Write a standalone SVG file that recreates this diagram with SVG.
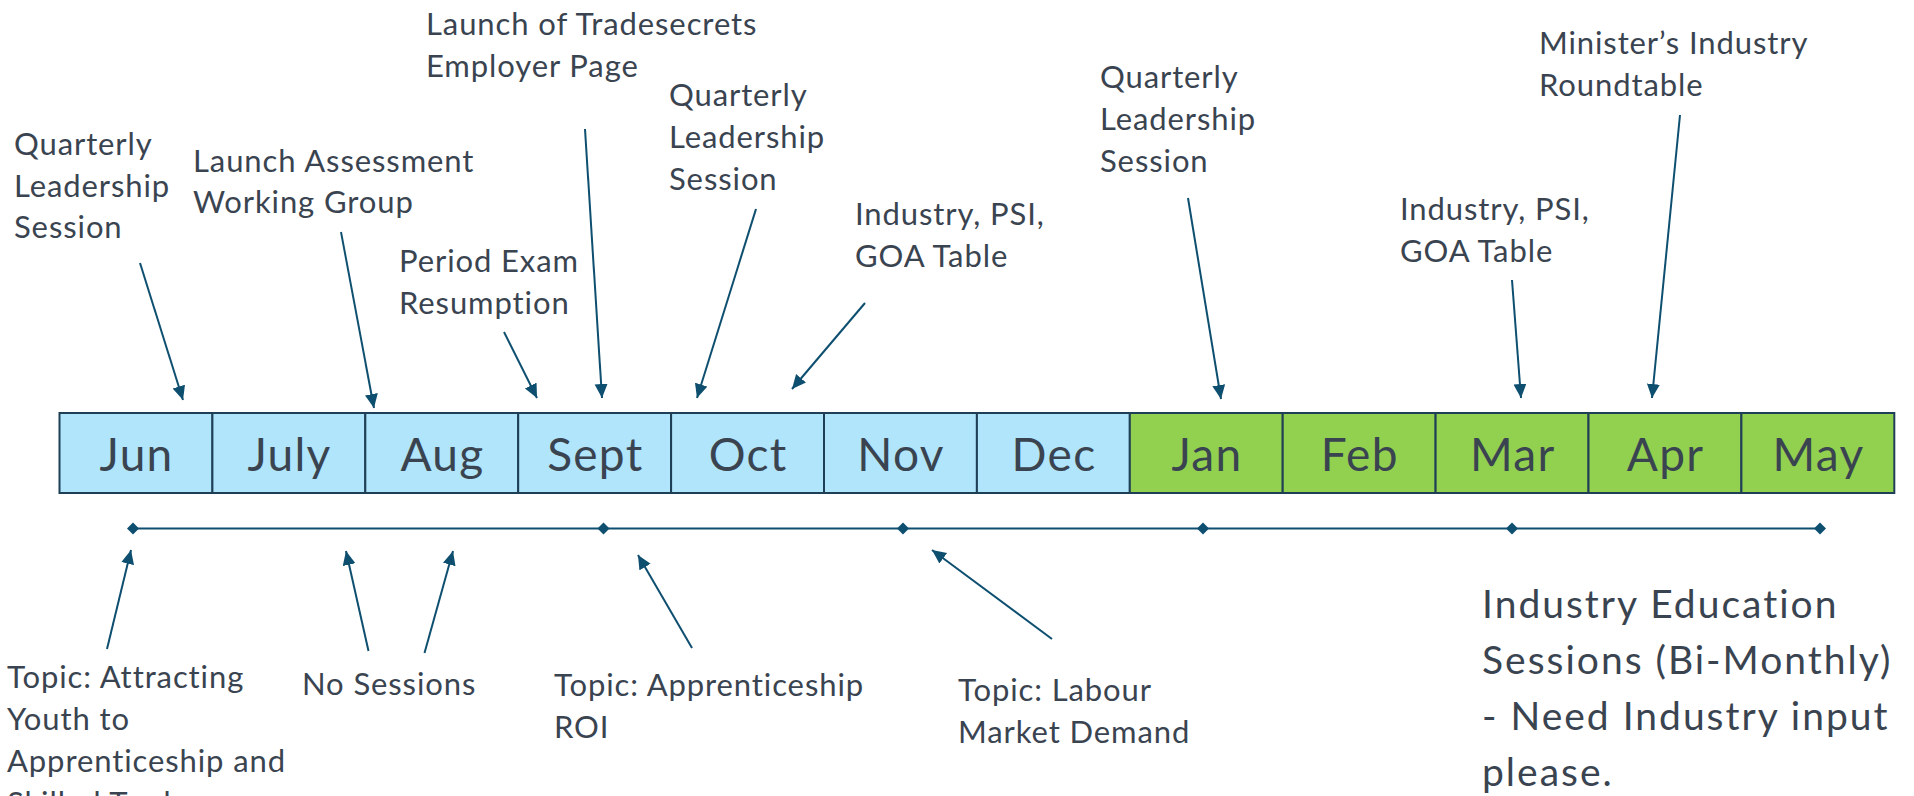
<svg xmlns="http://www.w3.org/2000/svg" width="1914" height="796" viewBox="0 0 1914 796">
<style>
.lbl{font-family:Lato,"Liberation Sans",sans-serif;font-size:31px;letter-spacing:0.9px;fill:#3A4450}
.big{font-family:Lato,"Liberation Sans",sans-serif;font-size:39px;letter-spacing:2px;fill:#3A4450}
.mon{font-family:Lato,"Liberation Sans",sans-serif;font-size:46px;letter-spacing:1.3px;fill:#3A4450;text-anchor:middle}
.cb{fill:#B0E5FB;stroke:#1E3F55;stroke-width:2}
.cg{fill:#92D050;stroke:#1E3F55;stroke-width:2}
.ar{stroke:#0E4F70;stroke-width:2;fill:none;marker-end:url(#ah)}
.dm{fill:#0E4F70}
</style>
<defs>
<marker id="ah" markerUnits="userSpaceOnUse" markerWidth="16" markerHeight="14" refX="14" refY="6.5" orient="auto">
<path d="M0,0 L14,6.5 L0,13 Z" fill="#0E4F70"/>
</marker>
</defs>
<rect width="1914" height="796" fill="#FFFFFF"/>
<g id="months">
<g id="m-jun"><rect class="cb" x="59.5" y="413" width="152.9" height="80"/><text class="mon" x="136.6" y="471">Jun</text></g>
<g id="m-jul"><rect class="cb" x="212.4" y="413" width="152.9" height="80"/><text class="mon" x="289.5" y="471">July</text></g>
<g id="m-aug"><rect class="cb" x="365.3" y="413" width="152.9" height="80"/><text class="mon" x="442.4" y="471">Aug</text></g>
<g id="m-sep"><rect class="cb" x="518.2" y="413" width="152.9" height="80"/><text class="mon" x="595.3" y="471">Sept</text></g>
<g id="m-oct"><rect class="cb" x="671.1" y="413" width="152.9" height="80"/><text class="mon" x="748.2" y="471">Oct</text></g>
<g id="m-nov"><rect class="cb" x="824" y="413" width="152.9" height="80"/><text class="mon" x="901.1" y="471">Nov</text></g>
<g id="m-dec"><rect class="cb" x="976.9" y="413" width="152.9" height="80"/><text class="mon" x="1054" y="471">Dec</text></g>
<g id="m-jan"><rect class="cg" x="1129.8" y="413" width="152.9" height="80"/><text class="mon" x="1206.9" y="471">Jan</text></g>
<g id="m-feb"><rect class="cg" x="1282.7" y="413" width="152.9" height="80"/><text class="mon" x="1359.8" y="471">Feb</text></g>
<g id="m-mar"><rect class="cg" x="1435.6" y="413" width="152.9" height="80"/><text class="mon" x="1512.7" y="471">Mar</text></g>
<g id="m-apr"><rect class="cg" x="1588.5" y="413" width="152.9" height="80"/><text class="mon" x="1665.6" y="471">Apr</text></g>
<g id="m-may"><rect class="cg" x="1741.4" y="413" width="152.9" height="80"/><text class="mon" x="1818.5" y="471">May</text></g>
</g>
<g id="timeline">
<line x1="133" y1="528.5" x2="1820" y2="528.5" stroke="#0E4F70" stroke-width="2"/>
<path class="dm" d="M133,522.5 L139,528.5 L133,534.5 L127,528.5 Z"/>
<path class="dm" d="M603.5,522.5 L609.5,528.5 L603.5,534.5 L597.5,528.5 Z"/>
<path class="dm" d="M903,522.5 L909,528.5 L903,534.5 L897,528.5 Z"/>
<path class="dm" d="M1203,522.5 L1209,528.5 L1203,534.5 L1197,528.5 Z"/>
<path class="dm" d="M1512,522.5 L1518,528.5 L1512,534.5 L1506,528.5 Z"/>
<path class="dm" d="M1820,522.5 L1826,528.5 L1820,534.5 L1814,528.5 Z"/>
</g>
<g id="connectors">
<line class="ar" x1="140" y1="263" x2="183" y2="400"/>
<line class="ar" x1="341" y1="232" x2="374" y2="408"/>
<line class="ar" x1="504" y1="332" x2="537" y2="398"/>
<line class="ar" x1="585" y1="129" x2="602" y2="398"/>
<line class="ar" x1="756" y1="209" x2="697" y2="398"/>
<line class="ar" x1="865" y1="303" x2="792" y2="389"/>
<line class="ar" x1="1188" y1="198" x2="1221" y2="399"/>
<line class="ar" x1="1512" y1="280" x2="1521" y2="398"/>
<line class="ar" x1="1680" y1="115" x2="1652" y2="398"/>
<line class="ar" x1="107" y1="649" x2="131" y2="550"/>
<line class="ar" x1="368.5" y1="651" x2="346" y2="551"/>
<line class="ar" x1="424.5" y1="653" x2="453" y2="551"/>
<line class="ar" x1="692" y1="648" x2="638" y2="555"/>
<line class="ar" x1="1052" y1="639" x2="932" y2="550"/>
</g>
<g id="n-ql1"><text class="lbl" x="14" y="155">Quarterly</text><text class="lbl" x="14" y="196.5">Leadership</text><text class="lbl" x="14" y="238">Session</text></g>
<g id="n-law"><text class="lbl" x="193" y="172">Launch Assessment</text><text class="lbl" x="193" y="213">Working Group</text></g>
<g id="n-per"><text class="lbl" x="399" y="272">Period Exam</text><text class="lbl" x="399" y="314">Resumption</text></g>
<g id="n-trade"><text class="lbl" x="426" y="35">Launch of Tradesecrets</text><text class="lbl" x="426" y="77">Employer Page</text></g>
<g id="n-ql2"><text class="lbl" x="669" y="106">Quarterly</text><text class="lbl" x="669" y="148">Leadership</text><text class="lbl" x="669" y="190">Session</text></g>
<g id="n-ipg1"><text class="lbl" x="855" y="225">Industry, PSI,</text><text class="lbl" x="855" y="267">GOA Table</text></g>
<g id="n-ql3"><text class="lbl" x="1100" y="88">Quarterly</text><text class="lbl" x="1100" y="130">Leadership</text><text class="lbl" x="1100" y="172">Session</text></g>
<g id="n-ipg2"><text class="lbl" x="1400" y="220">Industry, PSI,</text><text class="lbl" x="1400" y="262">GOA Table</text></g>
<g id="n-min"><text class="lbl" x="1539" y="54">Minister’s Industry</text><text class="lbl" x="1539" y="96">Roundtable</text></g>
<g id="n-t1"><text class="lbl" x="7" y="688">Topic: Attracting</text><text class="lbl" x="7" y="730">Youth to</text><text class="lbl" x="7" y="772">Apprenticeship and</text><text class="lbl" x="7" y="814">Skilled Trades</text></g>
<g id="n-ns"><text class="lbl" x="302" y="695">No Sessions</text></g>
<g id="n-t2"><text class="lbl" x="554" y="696">Topic: Apprenticeship</text><text class="lbl" x="554" y="738">ROI</text></g>
<g id="n-t3"><text class="lbl" x="958" y="701">Topic: Labour</text><text class="lbl" x="958" y="743">Market Demand</text></g>
<g id="n-ies"><text class="big" x="1482" y="618">Industry Education</text><text class="big" x="1482" y="674">Sessions (Bi-Monthly)</text><text class="big" x="1482" y="730">- Need Industry input</text><text class="big" x="1482" y="786">please.</text></g>
</svg>
